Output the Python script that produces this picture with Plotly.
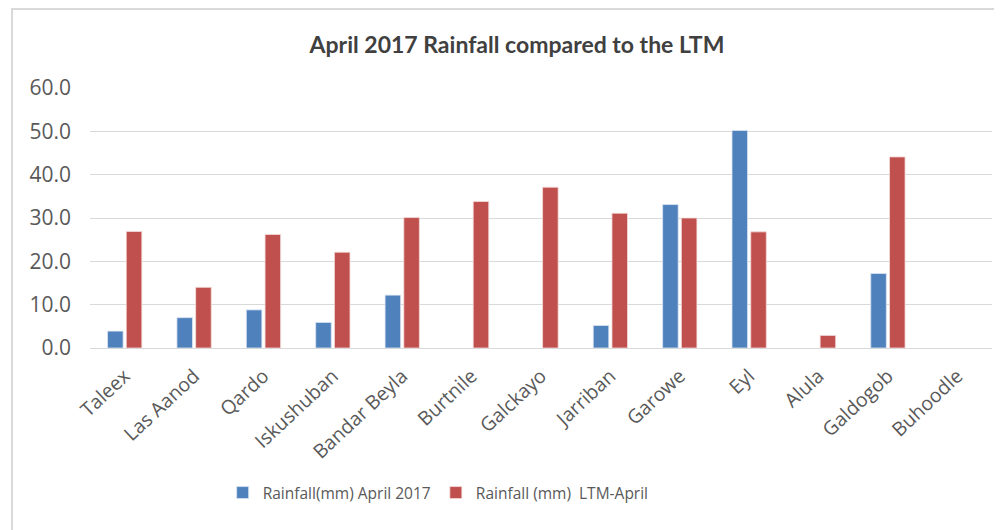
import plotly.graph_objects as go

stations = ["Taleex", "Las Aanod", "Qardo", "Iskushuban", "Bandar Beyla", "Burtnile",
            "Galckayo", "Jarriban", "Garowe", "Eyl", "Alula", "Galdogob", "Buhoodle"]
rain_apr2017 = [3.9, 7.0, 8.8, 5.9, 12.2, None, None, 5.2, 33.1, 50.2, None, 17.2, None]
rain_ltm_apr = [26.9, 14.0, 26.2, 22.1, 30.1, 33.8, 37.1, 31.1, 30.0, 26.8, 2.9, 44.1, None]
ytick_vals = [0, 10, 20, 30, 40, 50, 60]
ytick_text = ["0.0", "10.0", "20.0", "30.0", "40.0", "50.0", "60.0"]

W, H = 994, 522
L, R, T, B = 82, 10, 80, 182
PW, PH = W - L - R, H - T - B

fig = go.Figure()
fig.add_trace(go.Bar(x=stations, y=rain_apr2017, name="Rainfall(mm) April 2017",
                     marker=dict(color="#4F81BD", line=dict(color="#dbe5f1", width=0.8))))
fig.add_trace(go.Bar(x=stations, y=rain_ltm_apr, name="Rainfall (mm)  LTM-April",
                     marker=dict(color="#C0504D", line=dict(color="#f2dcdb", width=0.8))))

fig.update_layout(
    width=W, height=H,
    margin=dict(l=L, r=R, t=T, b=B),
    paper_bgcolor="white", plot_bgcolor="white",
    barmode="group", bargap=0.46, bargroupgap=0.17,
    font=dict(family="Open Sans, Noto Sans, sans-serif", color="#595959"),
    title=dict(text="April 2017 Rainfall compared to the LTM",
               x=509 / W, xanchor="center", y=1 - 37 / H, yanchor="middle",
               font=dict(family="Lato, Open Sans, sans-serif",
                         size=23, color="#404040", weight="bold")),
    xaxis=dict(tickangle=-43, tickfont=dict(size=19.5, color="#595959"), ticklabelstandoff=8,
               showline=True, linecolor="#d9d9d9", linewidth=1, ticks="", showgrid=False),
    yaxis=dict(range=[0, 60], tickvals=ytick_vals, ticktext=ytick_text,
               tickfont=dict(size=21, color="#595959"), showgrid=True, gridcolor="#d9d9d9",
               gridwidth=1, zeroline=False, ticklabelstandoff=18, showline=False),
    legend=dict(orientation="h", x=0.386, xanchor="center", y=(340 - 485) / PH, yanchor="middle",
                font=dict(size=15.5, color="#595959"), itemwidth=30, traceorder="normal"),
    shapes=[
        dict(type="line", xref="paper", yref="paper",
             x0=(3 - L) / PW, x1=(W + 10 - L) / PW, y0=(PH + T - 1) / PH, y1=(PH + T - 1) / PH,
             line=dict(color="#d9d9d9", width=2)),
        dict(type="line", xref="paper", yref="paper",
             x0=(4 - L) / PW, x1=(4 - L) / PW, y0=(PH + T - 1) / PH, y1=(PH + T - H - 20) / PH,
             line=dict(color="#d9d9d9", width=2)),
    ],
)

fig.write_html("out.html")
